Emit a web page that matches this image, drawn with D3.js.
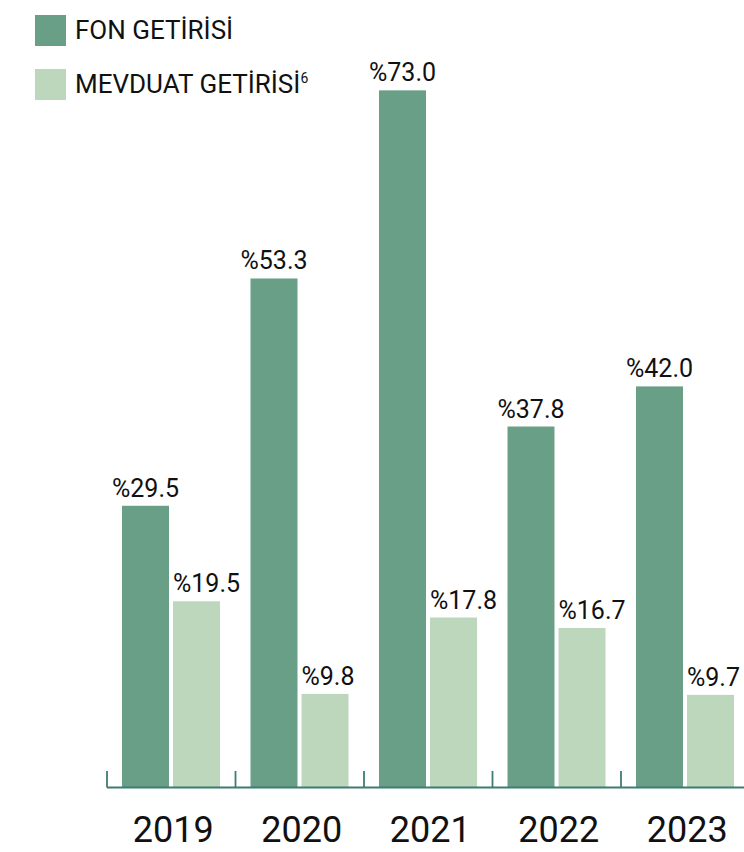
<!DOCTYPE html>
<html>
<head>
<meta charset="utf-8">
<script src="https://cdn.jsdelivr.net/npm/d3@7"></script>
<style>
  html, body { margin: 0; padding: 0; background: #fff; }
  svg { display: block; font-family: Roboto, "Noto Sans", sans-serif; }
</style>
</head>
<body>
<svg id="chart" width="744" height="852"></svg>
<script>
const years = ["2019", "2020", "2021", "2022", "2023"];
const fonValues = [29.5, 53.3, 73.0, 37.8, 42.0];
const mevduatValues = [19.5, 9.8, 17.8, 16.7, 9.7];
const seriesKeys = ["fon", "mevduat"];
const legendLabels = ["FON GETİRİSİ", "MEVDUAT GETİRİSİ"];
const legendSup = ["", "6"];

const colors = { fon: "#6a9f87", mevduat: "#bdd7bd" };
const axisColor = "#3d7c72";

const svg = d3.select("#chart");
const W = 744, H = 852;
const baseY = 787.5;

const x0 = d3.scaleBand().domain(years).range([107, 749.5]).paddingInner(0).paddingOuter(0);
const x1 = d3.scaleBand().domain(seriesKeys).range([15, 113]).paddingInner(4/51).paddingOuter(0);
const y = d3.scaleLinear().domain([0, 80]).range([baseY, baseY - 80 * 9.55]);

const data = years.map((yr, i) => ({ year: yr, fon: fonValues[i], mevduat: mevduatValues[i] }));

// bars
const groups = svg.selectAll("g.year").data(data).join("g")
  .attr("class", "year")
  .attr("transform", d => `translate(${x0(d.year)},0)`);

groups.selectAll("rect").data(d => seriesKeys.map(k => ({ key: k, value: d[k] }))).join("rect")
  .attr("x", d => x1(d.key))
  .attr("width", x1.bandwidth())
  .attr("y", d => y(d.value))
  .attr("height", d => baseY - y(d.value))
  .attr("fill", d => colors[d.key]);

// value labels
groups.selectAll("text.val").data(d => seriesKeys.map(k => ({ key: k, value: d[k] }))).join("text")
  .attr("class", "val")
  .attr("x", d => d.key === "fon" ? x1(d.key) + x1.bandwidth() / 2 : x1(d.key))
  .attr("y", d => y(d.value) - 9)
  .attr("text-anchor", d => d.key === "fon" ? "middle" : "start")
  .attr("font-size", 25)
  .attr("fill", "#111")
  .text(d => "%" + d.value.toFixed(1));

// axis
svg.append("line")
  .attr("x1", x0.range()[0]).attr("x2", W)
  .attr("y1", baseY).attr("y2", baseY)
  .attr("stroke", axisColor).attr("stroke-width", 1.8);

svg.selectAll("line.tick").data(years).join("line")
  .attr("class", "tick")
  .attr("x1", d => x0(d)).attr("x2", d => x0(d))
  .attr("y1", 771).attr("y2", baseY)
  .attr("stroke", axisColor).attr("stroke-width", 1.8);

svg.selectAll("text.year").data(years).join("text")
  .attr("class", "year")
  .attr("x", d => x0(d) + x0.bandwidth() / 2 + 2)
  .attr("y", 842)
  .attr("text-anchor", "middle")
  .attr("font-size", 36)
  .attr("fill", "#111")
  .text(d => d);

// legend
const leg = svg.selectAll("g.legend").data(seriesKeys).join("g")
  .attr("class", "legend")
  .attr("transform", (d, i) => `translate(35,${15 + i * 54})`);

leg.append("rect")
  .attr("width", 31).attr("height", 31)
  .attr("fill", d => colors[d]);

const lt = leg.append("text")
  .attr("x", 40)
  .attr("y", 23.5)
  .attr("font-size", 26)
  .attr("fill", "#111");
lt.append("tspan").text((d, i) => legendLabels[i]);
lt.append("tspan")
  .attr("font-size", 14)
  .attr("dy", -10)
  .text((d, i) => legendSup[i]);
</script>
</body>
</html>
